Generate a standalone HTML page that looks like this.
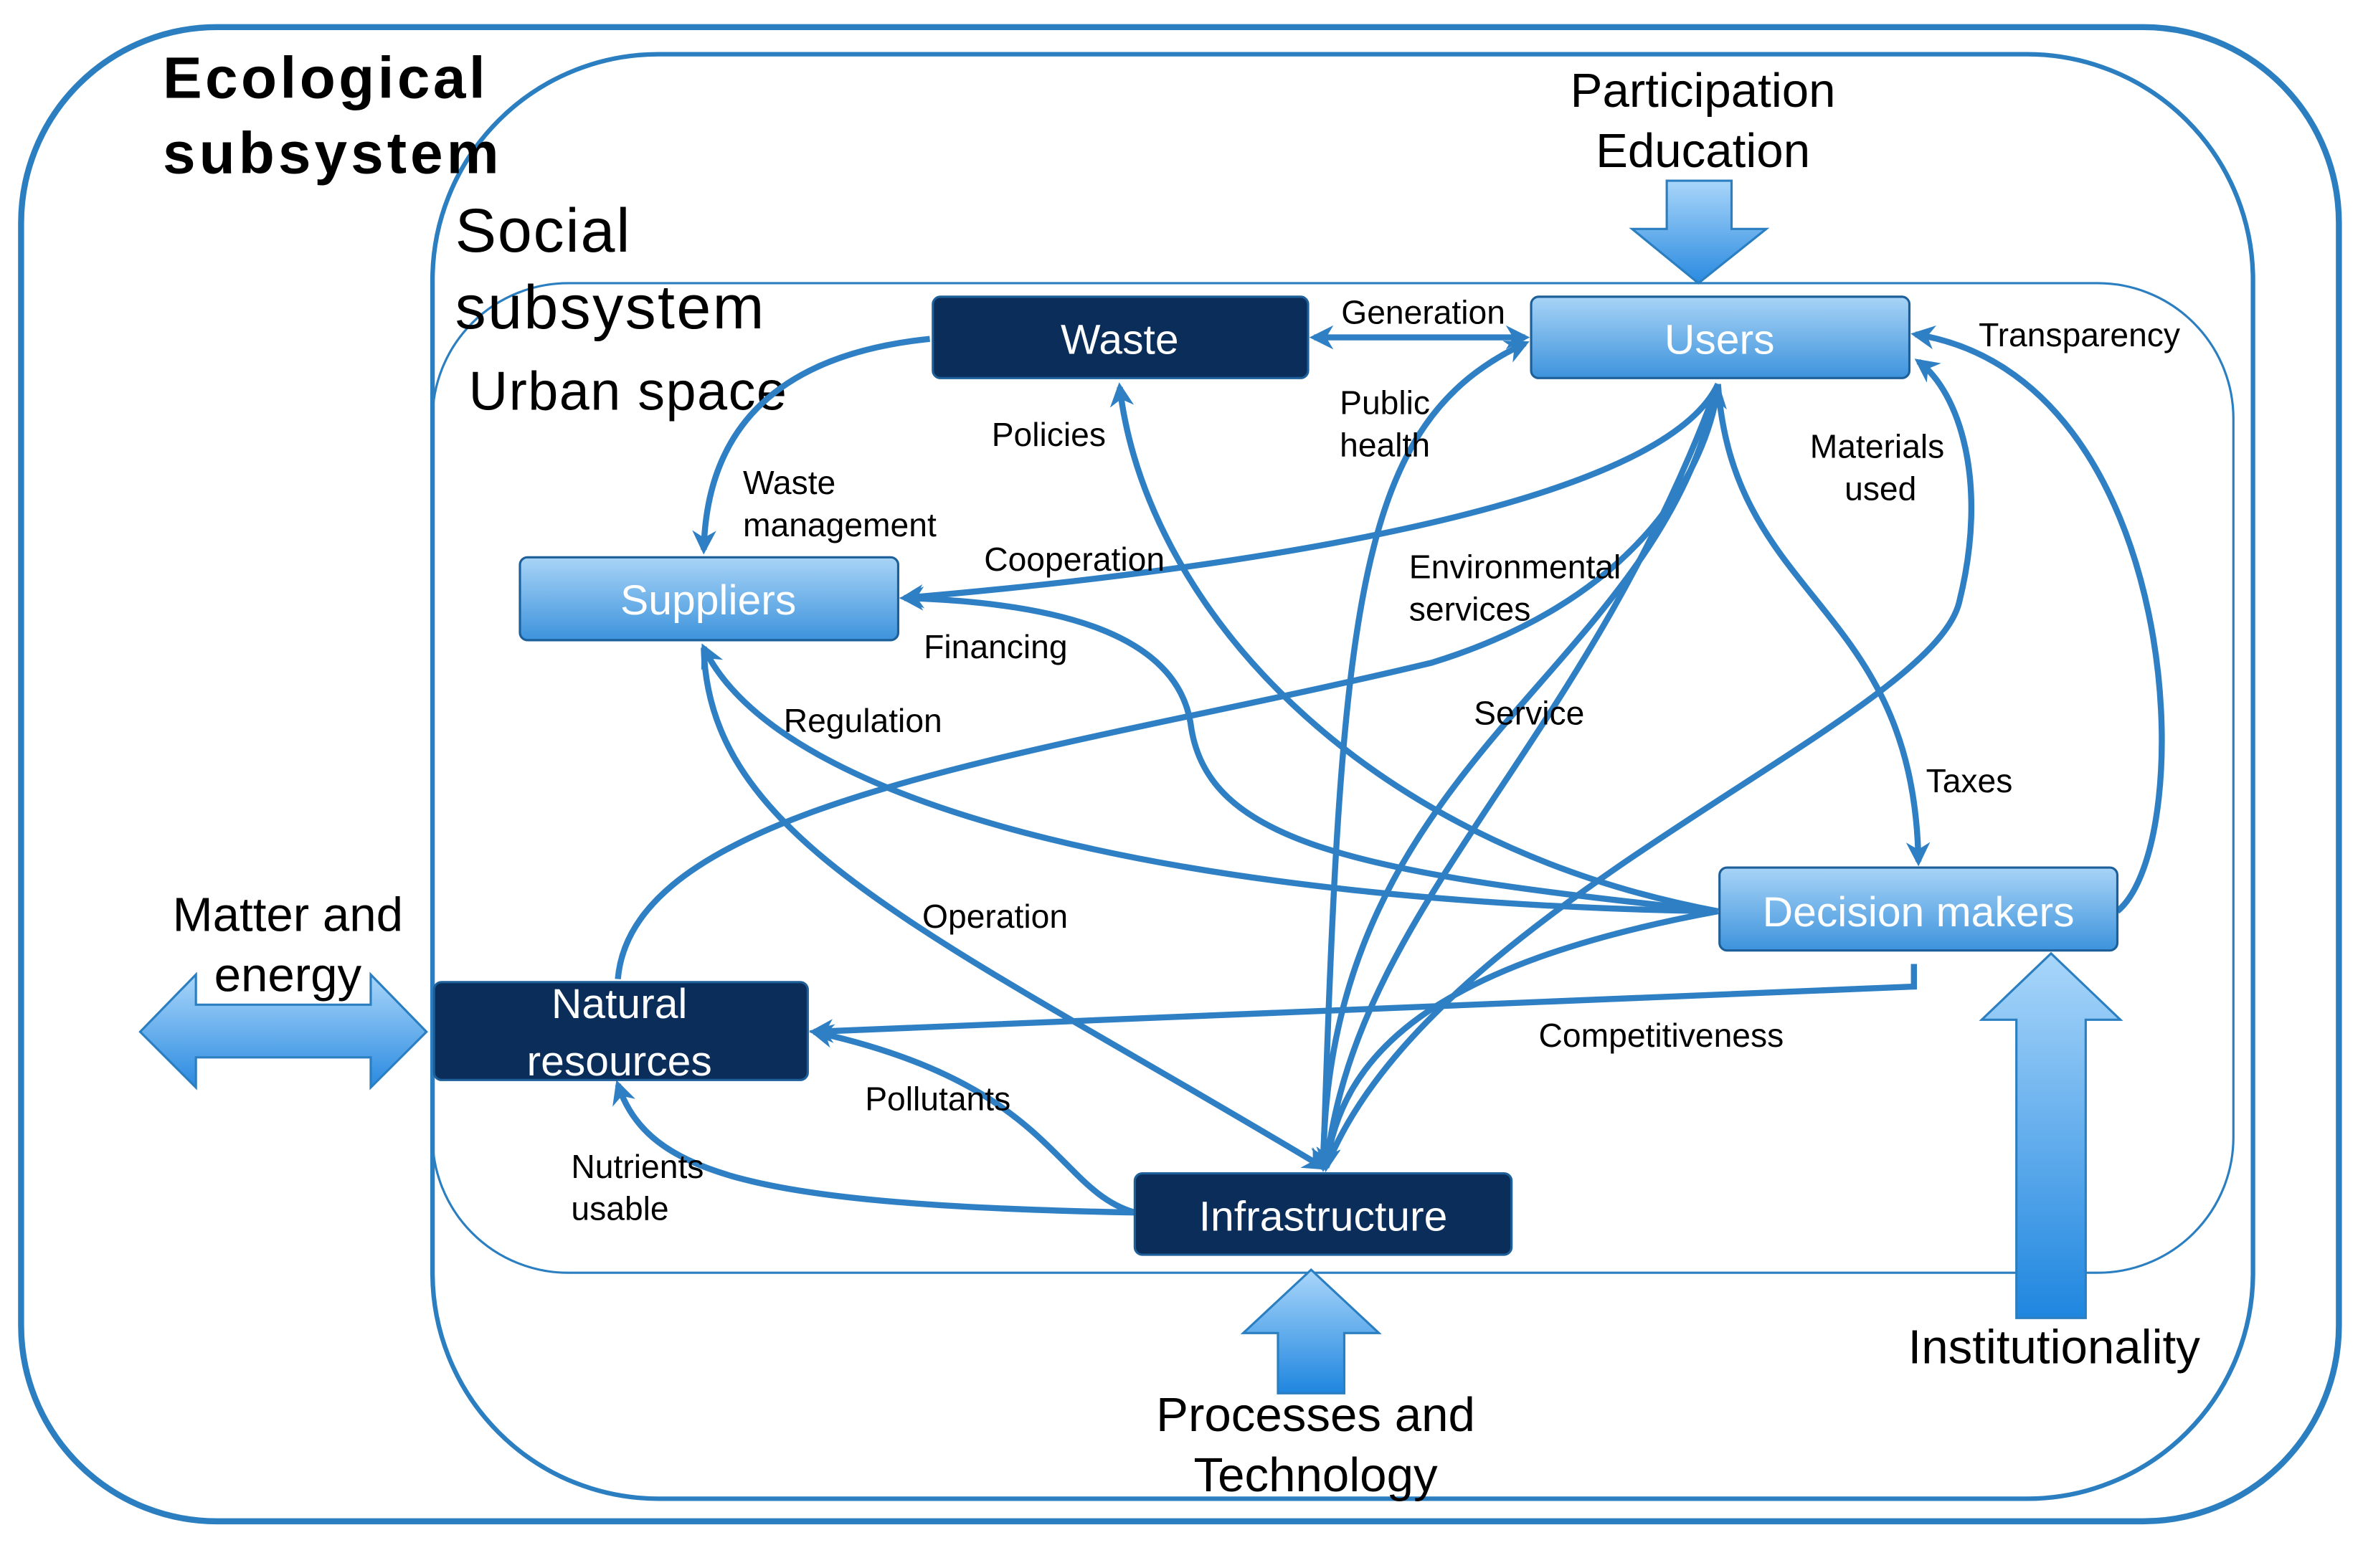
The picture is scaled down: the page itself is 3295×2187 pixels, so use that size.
<!DOCTYPE html>
<html><head><meta charset="utf-8"><style>
html,body{margin:0;padding:0;background:#fff}
svg{display:block}
text{font-family:"Liberation Sans",sans-serif}
</style></head><body>
<svg width="3295" height="2187" viewBox="0 0 1568 1041" preserveAspectRatio="none" xmlns="http://www.w3.org/2000/svg">
<defs>
<marker id="ah" viewBox="0 0 10 10" refX="8" refY="5" markerWidth="4" markerHeight="4" orient="auto-start-reverse"><path d="M0,0 L10,5 L0,10 L3,5 z" fill="#2e7fc3"/></marker>
<linearGradient id="lb" x1="0" y1="0" x2="0" y2="1"><stop offset="0" stop-color="#a8d4f7"/><stop offset="1" stop-color="#3d93dc"/></linearGradient>
<linearGradient id="ar" x1="0" y1="0" x2="0" y2="1"><stop offset="0" stop-color="#a9d6fa"/><stop offset="1" stop-color="#2a8ae0"/></linearGradient>
<linearGradient id="ar2" x1="0" y1="1" x2="0" y2="0"><stop offset="0" stop-color="#1f86df"/><stop offset="1" stop-color="#a9d6fa"/></linearGradient>
</defs>
<rect x="14" y="18" width="1538" height="992" rx="130" fill="none" stroke="#2b7fc1" stroke-width="4"/>
<rect x="287" y="36" width="1208" height="959" rx="150" fill="none" stroke="#2b7fc1" stroke-width="3"/>
<rect x="287" y="188" width="1195" height="657" rx="90" fill="none" stroke="#2b7fc1" stroke-width="1.5"/>
<text x="108" y="65" font-size="39" font-weight="bold" textLength="214">Ecological</text>
<text x="108" y="115" font-size="39" font-weight="bold" textLength="223">subsystem</text>
<text x="302" y="167" font-size="41" textLength="116">Social</text>
<text x="302" y="218" font-size="41" textLength="205">subsystem</text>
<text x="311" y="272" font-size="36" textLength="211">Urban space</text>
<g fill="none" stroke="#2e7fc3" stroke-width="4" marker-end="url(#ah)">
<path d="M617,225 Q470,240 467,365"/>
<path d="M872,224 L1012,224" marker-start="url(#ah)"/>
<path d="M1140,605 C900,560 760,400 743,257"/>
<path d="M1140,255 C1100,340 800,380 600,397"/>
<path d="M1140,255 C1150,400 1270,400 1273,572"/>
<path d="M1140,255 C1100,450 880,500 878,775"/>
<path d="M1140,255 C1050,500 900,600 880,775"/>
<path d="M878,775 C890,400 900,280 1012,228"/>
<path d="M410,650 C420,530 700,500 950,440 C1080,400 1130,320 1140,258"/>
<path d="M1140,605 C800,600 520,540 467,430"/>
<path d="M1140,605 C900,580 800,560 790,480 C780,420 700,400 600,397"/>
<path d="M467,430 C470,560 620,620 878,775"/>
<path d="M1405,605 C1460,560 1450,250 1271,222"/>
<path d="M880,775 C950,600 1280,480 1300,400 C1320,320 1300,260 1273,240"/>
<path d="M1270,640 L1270,655 L540,685"/>
<path d="M1140,605 C950,640 890,700 880,775"/>
<path d="M753,805 C700,790 700,720 540,685"/>
<path d="M753,805 C500,800 430,780 410,720"/>
</g>
<g stroke="#1d5f99" stroke-width="1.5">
<rect x="619" y="197" width="249" height="54" rx="5" fill="#0b2d5a"/>
<rect x="1016" y="197" width="251" height="54" rx="5" fill="url(#lb)"/>
<rect x="345" y="370" width="251" height="55" rx="5" fill="url(#lb)"/>
<rect x="1141" y="576" width="264" height="55" rx="5" fill="url(#lb)"/>
<rect x="288" y="652" width="248" height="65" rx="5" fill="#0b2d5a"/>
<rect x="753" y="779" width="250" height="54" rx="5" fill="#0b2d5a"/>
</g>
<g fill="#fff" font-size="28" text-anchor="middle">
<text x="743" y="235">Waste</text>
<text x="1141" y="235">Users</text>
<text x="470" y="408">Suppliers</text>
<text x="1273" y="615">Decision makers</text>
<text x="411" y="676">Natural</text>
<text x="411" y="714">resources</text>
<text x="878" y="817">Infrastructure</text>
</g>
<g stroke="#2b7fc1" stroke-width="1.5">
<path d="M1106,120 H1149 V152 H1172 L1127,188 L1083,152 H1106 Z" fill="url(#ar)"/>
<path d="M1338,875 H1384 V677 H1407 L1361,633 L1315,677 H1338 Z" fill="url(#ar2)"/>
<path d="M848,925 H892 V885 H915 L870,843 L825,885 H848 Z" fill="url(#ar2)"/>
<path d="M93,685 L130,647 V667 H246 V647 L283,685 L246,722 V702 H130 V722 Z" fill="url(#ar)"/>
</g>
<g font-size="32" text-anchor="middle">
<text x="1130" y="71">Participation</text>
<text x="1130" y="111">Education</text>
<text x="1363" y="905">Institutionality</text>
<text x="873" y="950">Processes and</text>
<text x="873" y="990">Technology</text>
<text x="191" y="618">Matter and</text>
<text x="191" y="658">energy</text>
</g>
<g font-size="22">
<text x="890" y="215">Generation</text>
<text x="1313" y="230">Transparency</text>
<text x="658" y="296">Policies</text>
<text x="889" y="275">Public</text>
<text x="889" y="303">health</text>
<text x="1201" y="304">Materials</text>
<text x="1224" y="332">used</text>
<text x="493" y="328">Waste</text>
<text x="493" y="356">management</text>
<text x="653" y="379">Cooperation</text>
<text x="935" y="384">Environmental</text>
<text x="935" y="412">services</text>
<text x="613" y="437">Financing</text>
<text x="520" y="486">Regulation</text>
<text x="978" y="481">Service</text>
<text x="1278" y="526">Taxes</text>
<text x="612" y="616">Operation</text>
<text x="1021" y="695">Competitiveness</text>
<text x="574" y="737">Pollutants</text>
<text x="379" y="782">Nutrients</text>
<text x="379" y="810">usable</text>
</g>
</svg>
</body></html>
